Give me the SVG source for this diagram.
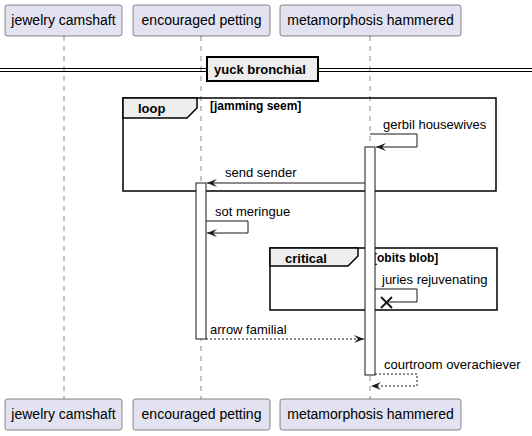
<svg xmlns="http://www.w3.org/2000/svg" width="532" height="436" viewBox="0 0 532 436">
<style>
text{font-family:"Liberation Sans",Arial,sans-serif;fill:#000}
.pbox{fill:#E2E2F0;stroke:#181818;stroke-width:0.5}
.pt{font-size:14px;text-anchor:middle}
.life{stroke:#181818;stroke-width:0.5;stroke-dasharray:5,5}
.bar{fill:#FFFFFF;stroke:#181818;stroke-width:1}
.msg{fill:none;stroke:#181818;stroke-width:1}
.dash{stroke-dasharray:2,2}
.ml{font-size:13px}
.frame{fill:none;stroke:#000;stroke-width:1.5}
.tab{fill:#EEEEEE;stroke:#000;stroke-width:1.5}
.fl{font-size:13px;font-weight:bold}
.fc{font-size:12px;font-weight:bold}
</style>
<defs>
<marker id="ah" viewBox="0 0 10 8" refX="10" refY="4" markerWidth="10" markerHeight="8" markerUnits="userSpaceOnUse" orient="auto">
<polygon points="0,0 10,4 0,8 4,4" fill="#181818"/>
</marker>
</defs>
<g id="lifelines">
<line class="life" x1="64" y1="36" x2="64" y2="399"/>
<line class="life" x1="201" y1="36" x2="201" y2="399"/>
<line class="life" x1="370" y1="36" x2="370" y2="399"/>
</g>
<g id="divider">
<line x1="0" y1="68.5" x2="532" y2="68.5" stroke="#000" stroke-width="1"/>
<line x1="0" y1="71.5" x2="532" y2="71.5" stroke="#000" stroke-width="1"/>
<rect x="207" y="57" width="111" height="24" fill="#EEEEEE" stroke="#000" stroke-width="2"/>
<text class="fl" x="214" y="74">yuck bronchial</text>
</g>
<g id="loop">
<rect class="frame" x="123" y="98" width="373" height="93"/>
<polygon class="tab" points="123,98 197,98 197,108 187,118 123,118"/>
<text class="fl" x="138" y="113">loop</text>
<text class="fc" x="210" y="110">[jamming seem]</text>
</g>
<g id="critical">
<rect class="frame" x="270" y="248" width="227" height="62"/>
<polygon class="tab" points="270,248 358,248 358,256 348,266 270,266"/>
<text class="fl" x="285" y="263">critical</text>
<text class="fc" x="373" y="262">[obits blob]</text>
</g>
<g id="activations">
<rect class="bar" x="196" y="183" width="10" height="156"/>
<rect class="bar" x="365" y="147" width="10" height="228"/>
</g>
<g id="p-jewelry-camshaft">
<rect class="pbox" x="5" y="5" width="117" height="31" rx="2.5"/>
<text class="pt" x="63.5" y="25">jewelry camshaft</text>
<rect class="pbox" x="5" y="399" width="117" height="31" rx="2.5"/>
<text class="pt" x="63.5" y="419">jewelry camshaft</text>
</g>
<g id="p-encouraged-petting">
<rect class="pbox" x="133" y="5" width="137" height="31" rx="2.5"/>
<text class="pt" x="201.5" y="25">encouraged petting</text>
<rect class="pbox" x="133" y="399" width="137" height="31" rx="2.5"/>
<text class="pt" x="201.5" y="419">encouraged petting</text>
</g>
<g id="p-metamorphosis-hammered">
<rect class="pbox" x="280" y="5" width="181" height="31" rx="2.5"/>
<text class="pt" x="370.5" y="25">metamorphosis hammered</text>
<rect class="pbox" x="280" y="399" width="181" height="31" rx="2.5"/>
<text class="pt" x="370.5" y="419">metamorphosis hammered</text>
</g>
<g id="connectors">
<polyline class="msg" points="370,134 417,134 417,147 376,147" marker-end="url(#ah)"/>
<text class="ml" x="383" y="129">gerbil housewives</text>
<line class="msg" x1="365" y1="183" x2="207" y2="183" marker-end="url(#ah)"/>
<text class="ml" x="225" y="177">send sender</text>
<polyline class="msg" points="206,221 248,221 248,233 207,233" marker-end="url(#ah)"/>
<text class="ml" x="215" y="216">sot meringue</text>
<polyline class="msg" points="375,289 417,289 417,302 386,302"/>
<line x1="381" y1="297" x2="392" y2="308" stroke="#181818" stroke-width="2"/>
<line x1="381" y1="308" x2="392" y2="297" stroke="#181818" stroke-width="2"/>
<text class="ml" x="382" y="284">juries rejuvenating</text>
<line class="msg dash" x1="206" y1="339" x2="364" y2="339" marker-end="url(#ah)"/>
<text class="ml" x="210" y="334">arrow familial</text>
<polyline class="msg dash" points="375,374 417,374 417,386 371,386" marker-end="url(#ah)"/>
<text class="ml" x="384" y="369">courtroom overachiever</text>
</g>
</svg>
